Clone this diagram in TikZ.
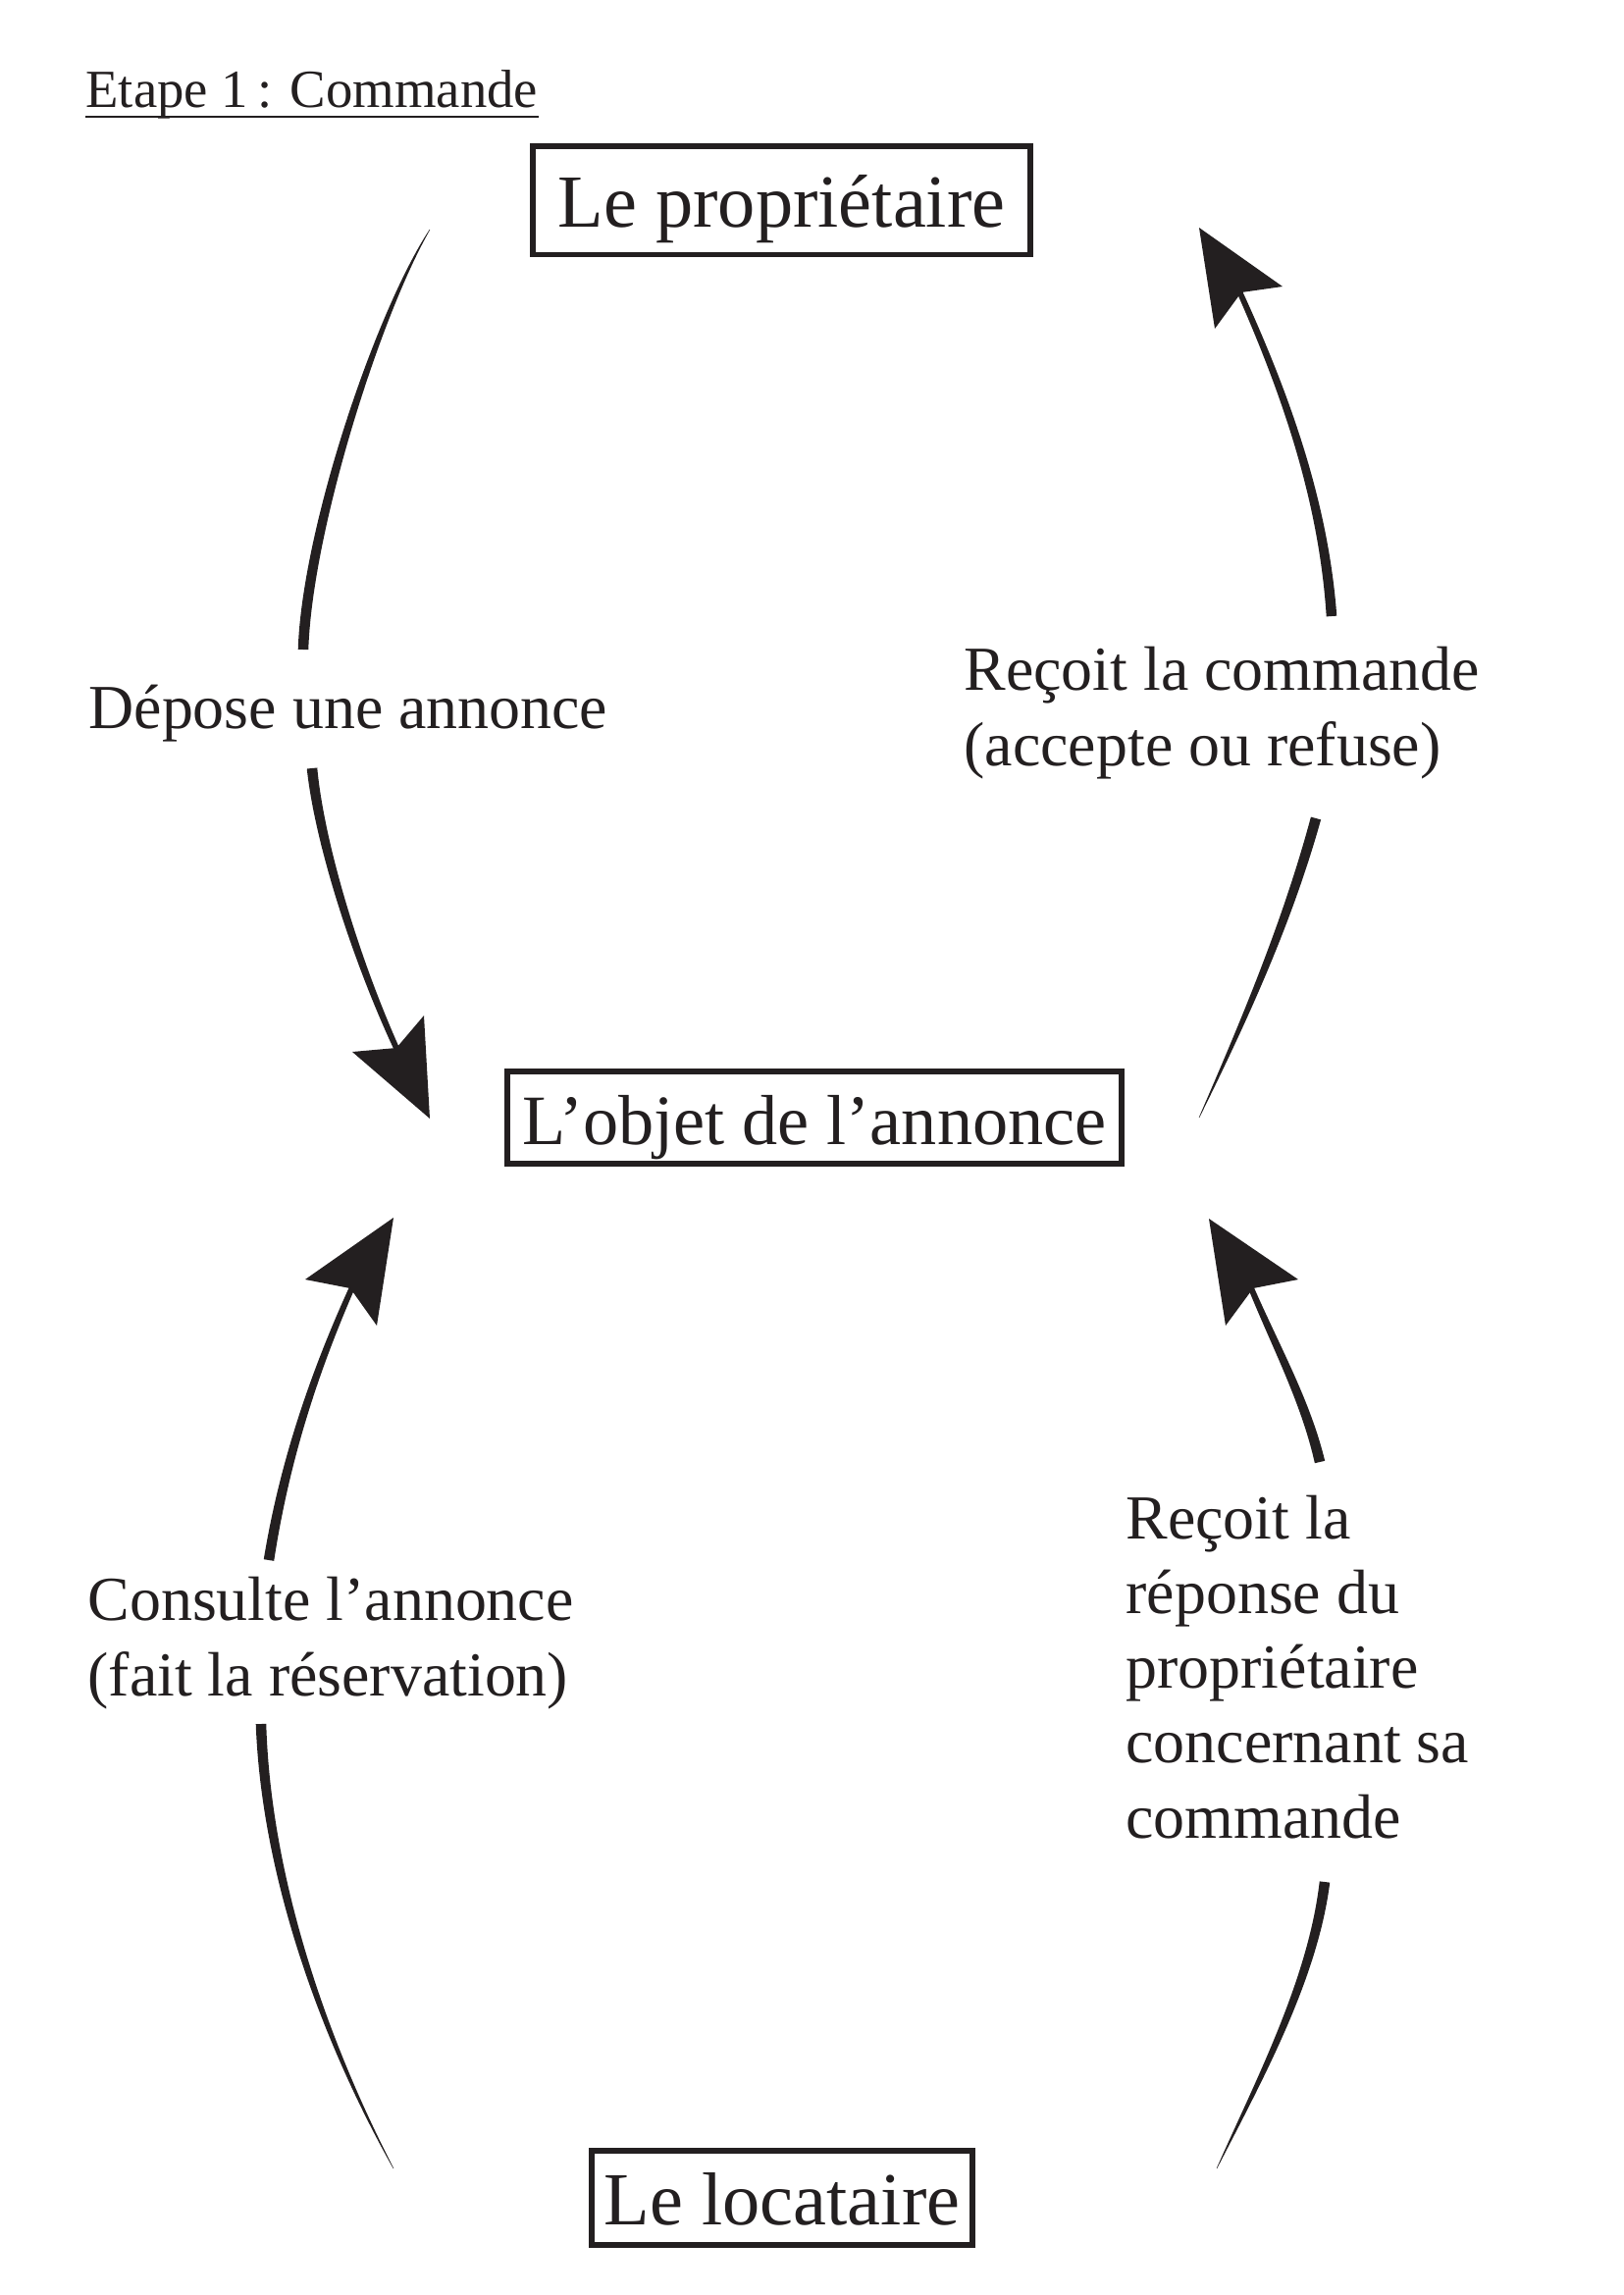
\documentclass[tikz,border=0pt]{standalone}
\usepackage{fontspec}
\setmainfont{Liberation Serif}
\usetikzlibrary{calc}
\definecolor{ink}{HTML}{231F20}
% tapered brush stroke along a cubic curve: points #1..#4, half widths #5..#8
\newcommand\taperstroke[8]{%
  \coordinate (ta0) at ($(#1)!#5!90:(#2)$);
  \coordinate (tb0) at ($(#1)!#5!-90:(#2)$);
  \coordinate (ta1) at ($(#2)!#6!-90:(#1)$);
  \coordinate (tb1) at ($(#2)!#6!90:(#1)$);
  \coordinate (ta2) at ($(#3)!#7!90:(#4)$);
  \coordinate (tb2) at ($(#3)!#7!-90:(#4)$);
  \coordinate (ta3) at ($(#4)!#8!-90:(#3)$);
  \coordinate (tb3) at ($(#4)!#8!90:(#3)$);
  \fill[ink] (ta0) .. controls (ta1) and (ta2) .. (ta3) -- (tb3) .. controls (tb2) and (tb1) .. (tb0) -- cycle;
}
\begin{document}
\begin{tikzpicture}[x=0.36pt,y=-0.36pt,
  box/.style={draw=ink, line width=2pt, text=ink, inner sep=0pt, text height=19.6pt, text depth=0pt},
  boxfont/.style={font=\fontsize{27.5}{33}\selectfont},
  lbl/.style={text=ink, align=left, inner sep=0pt, anchor=base west,
              font=\fontsize{23}{27.4}\selectfont},
  head/.style={fill=ink}
]
\useasboundingbox[fill=white] (0,0) rectangle (1654,2339);

% title
\node[text=ink, inner sep=0pt, anchor=base west, font=\fontsize{19.7}{24}\selectfont]
  (title) at (87,109) {Etape 1\,: Commande};
\draw[ink, line width=0.9pt] ([yshift=-3.6pt]title.base west) -- ([yshift=-3.6pt]title.base east);

% boxes
\node[box, boxfont, minimum width=182.7pt, minimum height=39.8pt] (prop) at (796.5,204) {Le propriétaire};
\node[box, font=\fontsize{26}{32}\selectfont, minimum width=225.5pt, minimum height=34pt] (objet) at (830,1139) {L’objet de l’annonce};
\node[box, boxfont, minimum width=139.5pt, minimum height=34.7pt] (loc) at (797,2240) {Le locataire};

% labels (anchor = baseline of the last line)
\node[lbl] (depose) at (90,742) {Dépose une annonce};
\node[lbl] (recoit) at (982,780) {Reçoit la commande\\(accepte ou refuse)};
\node[lbl] (consulte) at (89,1728) {Consulte l’annonce\\(fait la réservation)};
\node[lbl] (reponse) at (1147,1873) {Reçoit la\\réponse du\\propriétaire\\concernant sa\\commande};

% ---- arc A : propriétaire -> objet (left, top)
\coordinate (A0) at (438,234);
\coordinate (A1) at (385,320);
\coordinate (A2) at (313,540);
\coordinate (A3) at (309,662);
\coordinate (A4) at (318,783);
\coordinate (A5) at (326,863);
\coordinate (A6) at (366,988);
\coordinate (A7) at (409,1079);
\taperstroke{A0}{A1}{A2}{A3}{0.09pt}{1.2pt}{1.9pt}{1.9pt}
\taperstroke{A4}{A5}{A6}{A7}{1.9pt}{1.7pt}{1.3pt}{1.0pt}
\coordinate (Atip) at (438,1140);
\coordinate (Ac1) at (359,1072);
\coordinate (An) at (404,1068);
\coordinate (Ac2) at (432,1035);
\fill[head] (Atip) -- (Ac1) -- (An) -- (Ac2) -- cycle;

% ---- arc B : objet -> propriétaire (right, top)
\coordinate (B0) at (1222,1139);
\coordinate (B1) at (1268,1040);
\coordinate (B2) at (1312,940);
\coordinate (B3) at (1341,834);
\coordinate (B4) at (1357,628);
\coordinate (B5) at (1349,512);
\coordinate (B6) at (1311,402);
\coordinate (B7) at (1259,288);
\taperstroke{B0}{B1}{B2}{B3}{0.09pt}{1.1pt}{1.7pt}{1.9pt}
\taperstroke{B4}{B5}{B6}{B7}{1.9pt}{1.7pt}{1.3pt}{1.0pt}
\coordinate (Btip) at (1222,232);
\coordinate (Bc1) at (1307,292);
\coordinate (Bn) at (1265,298);
\coordinate (Bc2) at (1238,335);
\fill[head] (Btip) -- (Bc1) -- (Bn) -- (Bc2) -- cycle;

% ---- arc C : locataire -> objet (left, bottom)
\coordinate (C0) at (363,1303);
\coordinate (C1) at (318,1402);
\coordinate (C2) at (289,1495);
\coordinate (C3) at (274,1590);
\coordinate (C4) at (266,1757);
\coordinate (C5) at (271,1907);
\coordinate (C6) at (326,2071);
\coordinate (C7) at (401,2210);
\taperstroke{C0}{C1}{C2}{C3}{1.0pt}{1.3pt}{1.7pt}{1.9pt}
\taperstroke{C4}{C5}{C6}{C7}{1.9pt}{1.7pt}{1.1pt}{0.09pt}
\coordinate (Ctip) at (401,1241);
\coordinate (Cc1) at (311,1304);
\coordinate (Cn) at (357,1313);
\coordinate (Cc2) at (384,1351);
\fill[head] (Ctip) -- (Cc1) -- (Cn) -- (Cc2) -- cycle;

% ---- arc D : locataire -> objet (right, bottom)
\coordinate (D0) at (1271,1303);
\coordinate (D1) at (1296,1365);
\coordinate (D2) at (1330,1425);
\coordinate (D3) at (1345,1490);
\coordinate (D4) at (1350,1918);
\coordinate (D5) at (1338,2018);
\coordinate (D6) at (1282,2122);
\coordinate (D7) at (1240,2210);
\taperstroke{D0}{D1}{D2}{D3}{1.0pt}{1.3pt}{1.7pt}{1.9pt}
\taperstroke{D4}{D5}{D6}{D7}{1.9pt}{1.7pt}{1.1pt}{0.09pt}
\coordinate (Dtip) at (1232,1242);
\coordinate (Dc1) at (1323,1304);
\coordinate (Dn) at (1277,1313);
\coordinate (Dc2) at (1249,1351);
\fill[head] (Dtip) -- (Dc1) -- (Dn) -- (Dc2) -- cycle;
\end{tikzpicture}
\end{document}
